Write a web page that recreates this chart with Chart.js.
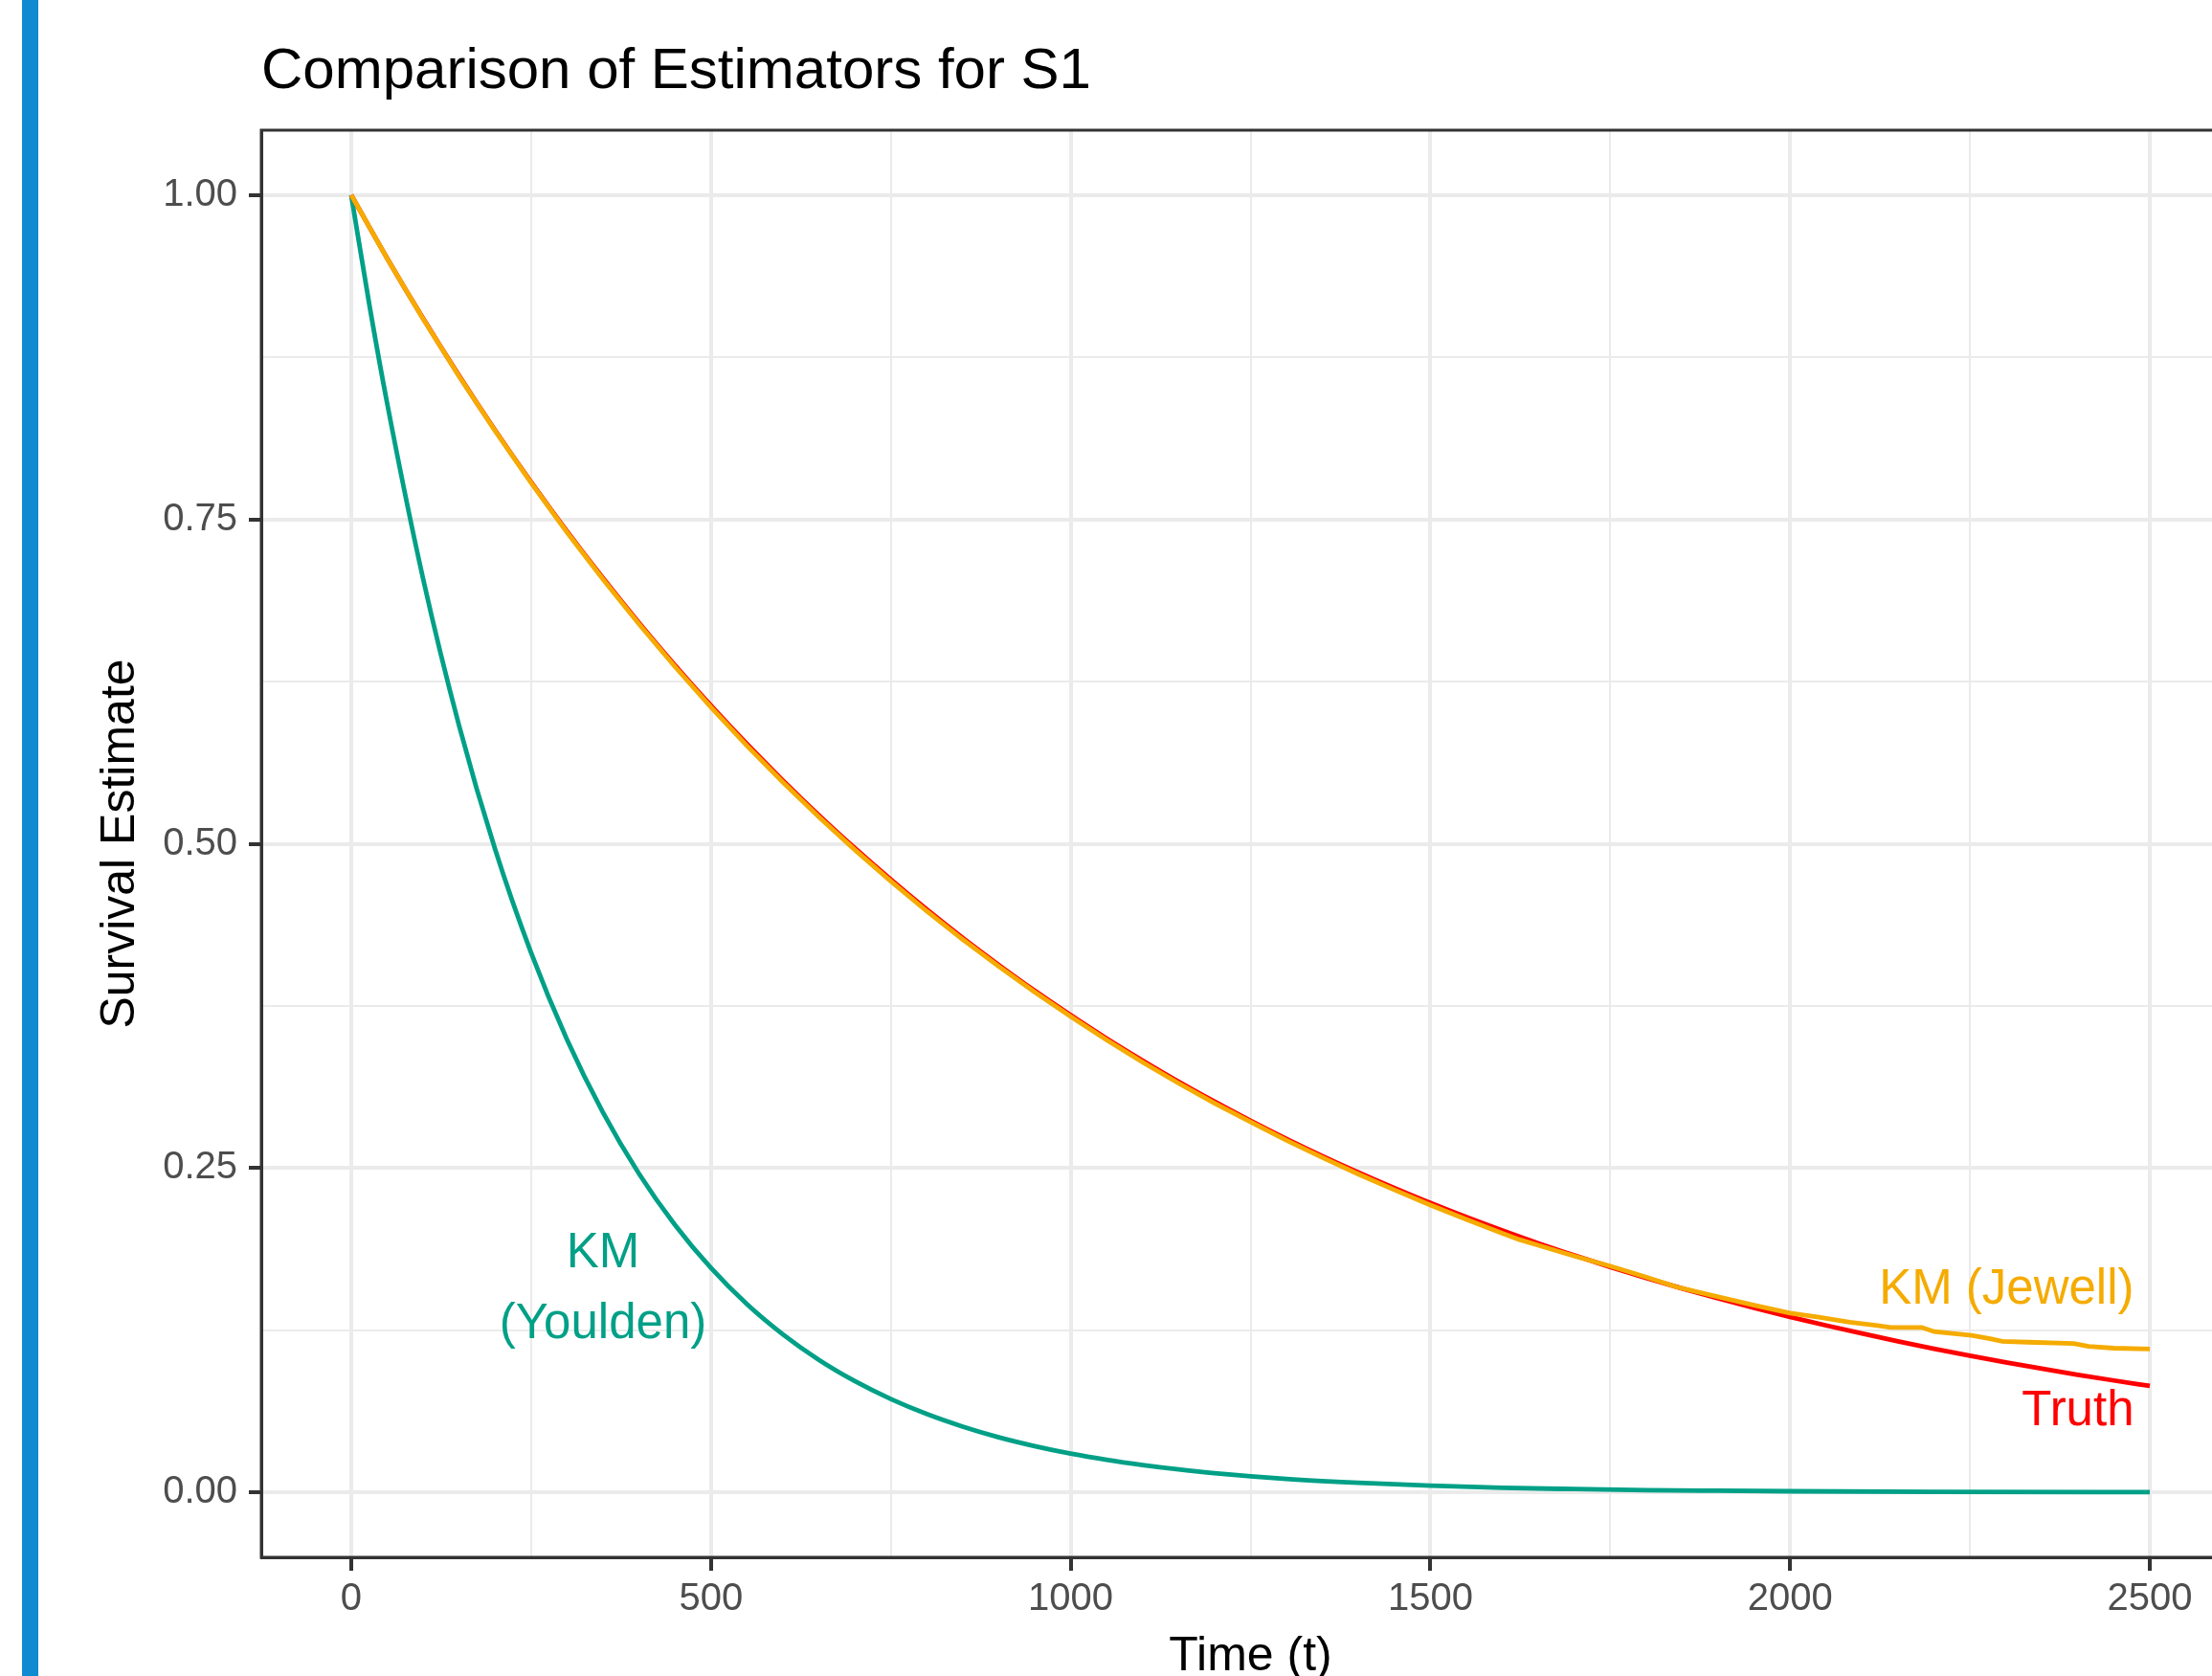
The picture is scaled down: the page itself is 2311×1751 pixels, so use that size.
<!DOCTYPE html>
<html>
<head>
<meta charset="utf-8">
<title>Comparison of Estimators for S1</title>
<script src="https://cdn.jsdelivr.net/npm/chart.js@4.4.1/dist/chart.umd.min.js"></script>
<style>
  html, body { margin: 0; padding: 0; background: #ffffff; overflow: hidden; }
  body { width: 2311px; height: 1751px; position: relative; }
  #side-bar { position: absolute; left: 23px; top: 0; width: 17px; height: 1751px; background: #108ad0; z-index: 2; }
  #survChart { position: absolute; left: 0; top: 0; }
</style>
</head>
<body>
<div id="side-bar"></div>
<canvas id="survChart" width="2360" height="1751"></canvas>
<script>
// Text
const TITLE = 'Comparison of Estimators for S1';
const X_TITLE = 'Time (t)';
const Y_TITLE = 'Survival Estimate';

// Ticks (major + minor gridlines)
const X_MAJOR = [0, 500, 1000, 1500, 2000, 2500];
const X_MINOR = [250, 750, 1250, 1750, 2250];
const Y_MAJOR = [0, 0.25, 0.5, 0.75, 1];
const Y_MINOR = [0.125, 0.375, 0.625, 0.875];

// Truth
const truthTime = [0, 50, 100, 150, 200, 250, 300, 350, 400, 450, 500, 550, 600, 650, 700, 750, 800, 850, 900, 950,
  1000, 1050, 1100, 1150, 1200, 1250, 1300, 1350, 1400, 1450, 1500, 1550, 1600, 1650, 1700, 1750, 1800, 1850, 1900, 1950,
  2000, 2050, 2100, 2150, 2200, 2250, 2300, 2350, 2400, 2450, 2500];
const truthSurv = [1.0000, 0.9512, 0.9048, 0.8607, 0.8187, 0.7788, 0.7408, 0.7047, 0.6703, 0.6376, 0.6065, 0.5769, 0.5488, 0.5220, 0.4966, 0.4724, 0.4493, 0.4274, 0.4066, 0.3867,
  0.3679, 0.3499, 0.3329, 0.3166, 0.3012, 0.2865, 0.2725, 0.2592, 0.2466, 0.2346, 0.2231, 0.2122, 0.2019, 0.1920, 0.1827, 0.1738, 0.1653, 0.1572, 0.1496, 0.1423,
  0.1353, 0.1287, 0.1225, 0.1165, 0.1108, 0.1054, 0.1003, 0.0954, 0.0907, 0.0863, 0.0821];

// KM (Jewell)
const jewellTime = [0, 50, 100, 150, 200, 250, 300, 350, 400, 450, 500, 550, 600, 650, 700, 750, 800, 850, 900, 950,
  1000, 1050, 1100, 1150, 1200, 1250, 1300, 1350, 1400, 1450, 1500, 1550, 1600, 1623, 1650, 1700, 1750, 1800, 1842, 1900, 1950,
  2000, 2040, 2083, 2119, 2140, 2183, 2200, 2252, 2278, 2295, 2330, 2394, 2415, 2450, 2500];
const jewellSurv = [1.0000, 0.9510, 0.9045, 0.8602, 0.8182, 0.7782, 0.7400, 0.7038, 0.6693, 0.6365, 0.6053, 0.5755, 0.5474, 0.5207, 0.4953, 0.4711, 0.4480, 0.4262, 0.4055, 0.3856,
  0.3668, 0.3488, 0.3316, 0.3154, 0.3000, 0.2855, 0.2714, 0.2581, 0.2453, 0.2332, 0.2215, 0.2105, 0.1998, 0.1950, 0.1905, 0.1822, 0.1745, 0.1660, 0.1584, 0.1508, 0.1443,
  0.1382, 0.1350, 0.1312, 0.1288, 0.1272, 0.1272, 0.1240, 0.1210, 0.1185, 0.1165, 0.1158, 0.1148, 0.1126, 0.1112, 0.1105];

// KM (Youlden)
const youldenTime = [0, 25, 50, 100, 150, 200, 250, 300, 350, 400, 450, 500, 550, 600, 650, 700, 750, 800, 850, 900, 950,
  1000, 1050, 1100, 1150, 1200, 1300, 1400, 1500, 1600, 1700, 1800, 1900, 2000, 2200, 2500];
const youldenSurv = [1.0000, 0.9161, 0.8393, 0.7040, 0.5909, 0.4957, 0.4160, 0.3490, 0.2928, 0.2457, 0.2062, 0.1730, 0.1451, 0.1218, 0.1022, 0.0858, 0.0720, 0.0604, 0.0507, 0.0425, 0.0357,
  0.0299, 0.0251, 0.0211, 0.0177, 0.0148, 0.0104, 0.0074, 0.0052, 0.0036, 0.0026, 0.0018, 0.0013, 0.0009, 0.0004, 0.0002];

// In-panel labels (data coordinates)
const LABELS = [
  { lines: ['KM (Jewell)'], x: 2478, y: 0.156, color: '#f5ab00', align: 'right' },
  { lines: ['Truth'], x: 2478, y: 0.062, color: '#ff0000', align: 'right' },
  { lines: ['KM', '(Youlden)'], x: 350, y: 0.1565, color: '#00a087', align: 'center' }
];

const FONT = '"Liberation Sans", Arial, Helvetica, sans-serif';

function toPoints(xs, ys) {
    return xs.map((t, i) => ({ x: t, y: ys[i] }));
}

// Titles, labels and the panel border, ggplot style
const ggTextPlugin = {
    id: 'ggText',
    afterDatasetsDraw(chart) {
        const { ctx, scales: { x, y } } = chart;
        ctx.save();
        ctx.font = `51px ${FONT}`;
        ctx.textBaseline = 'middle';
        LABELS.forEach(l => {
            ctx.fillStyle = l.color;
            ctx.textAlign = l.align;
            const px = x.getPixelForValue(l.x);
            const py = y.getPixelForValue(l.y);
            const lh = 74;
            const startY = py - (l.lines.length - 1) * lh / 2;
            l.lines.forEach((line, i) => ctx.fillText(line, px, startY + i * lh));
        });
        ctx.restore();
    },
    afterDraw(chart) {
        const { ctx, chartArea: a } = chart;
        ctx.save();
        // panel border
        ctx.strokeStyle = '#333333';
        ctx.lineWidth = 3;
        ctx.strokeRect(a.left, a.top, a.right - a.left, a.bottom - a.top);

        ctx.fillStyle = '#000000';
        ctx.textBaseline = 'alphabetic';

        // plot title
        ctx.font = `60px ${FONT}`;
        ctx.textAlign = 'left';
        ctx.fillText(TITLE, a.left, a.top - 44);

        // axis titles
        ctx.font = `50px ${FONT}`;
        ctx.textAlign = 'center';
        ctx.fillText(X_TITLE, (a.left + a.right) / 2, a.bottom + 118);

        ctx.translate(a.left - 133, (a.top + a.bottom) / 2);
        ctx.rotate(-Math.PI / 2);
        ctx.fillText(Y_TITLE, 0, 0);
        ctx.restore();
    }
};

function isMajor(list, v) {
    return list.some(m => Math.abs(m - v) < 1e-9);
}

function initChart() {
    const ctx = document.getElementById('survChart').getContext('2d');

    // lower order is drawn on top: Jewell over Truth
    const datasets = [
        {
            label: 'KM (Jewell)',
            data: toPoints(jewellTime, jewellSurv),
            borderColor: '#f5ab00',
            borderWidth: 4.8,
            pointRadius: 0,
            tension: 0,
            order: 0
        },
        {
            label: 'Truth',
            data: toPoints(truthTime, truthSurv),
            borderColor: '#ff0000',
            borderWidth: 4.8,
            pointRadius: 0,
            cubicInterpolationMode: 'monotone',
            order: 1
        },
        {
            label: 'KM (Youlden)',
            data: toPoints(youldenTime, youldenSurv),
            borderColor: '#00a087',
            borderWidth: 4.8,
            pointRadius: 0,
            cubicInterpolationMode: 'monotone',
            order: 2
        }
    ];

    const tickFont = { family: FONT, size: 40 };

    new Chart(ctx, {
        type: 'line',
        data: { datasets: datasets },
        options: {
            responsive: false,
            animation: false,
            devicePixelRatio: 1,
            layout: { padding: { top: 136, right: 20, left: 0, bottom: 0 } },
            plugins: {
                legend: { display: false },
                tooltip: { enabled: false }
            },
            scales: {
                x: {
                    type: 'linear',
                    min: -125,
                    max: 2625,
                    afterBuildTicks: scale => {
                        scale.ticks = X_MAJOR.concat(X_MINOR).sort((a, b) => a - b).map(v => ({ value: v }));
                    },
                    afterFit: scale => { scale.height = 124; },
                    ticks: {
                        autoSkip: false,
                        maxRotation: 0,
                        padding: 6,
                        color: '#4d4d4d',
                        font: tickFont,
                        callback: v => isMajor(X_MAJOR, v) ? String(v) : ''
                    },
                    grid: {
                        color: '#ebebeb',
                        lineWidth: c => isMajor(X_MAJOR, c.tick.value) ? 4 : 2,
                        tickColor: c => isMajor(X_MAJOR, c.tick.value) ? '#333333' : 'rgba(0,0,0,0)',
                        tickLength: 14,
                        tickWidth: 4
                    },
                    border: { display: true, color: '#333333', width: 3 }
                },
                y: {
                    type: 'linear',
                    min: -0.05,
                    max: 1.05,
                    afterBuildTicks: scale => {
                        scale.ticks = Y_MAJOR.concat(Y_MINOR).sort((a, b) => a - b).map(v => ({ value: v }));
                    },
                    afterFit: scale => { scale.width = 273; },
                    ticks: {
                        autoSkip: false,
                        padding: 12,
                        color: '#4d4d4d',
                        font: tickFont,
                        callback: v => isMajor(Y_MAJOR, v) ? v.toFixed(2) : ''
                    },
                    grid: {
                        color: '#ebebeb',
                        lineWidth: c => isMajor(Y_MAJOR, c.tick.value) ? 4 : 2,
                        tickColor: c => isMajor(Y_MAJOR, c.tick.value) ? '#333333' : 'rgba(0,0,0,0)',
                        tickLength: 13,
                        tickWidth: 4
                    },
                    border: { display: true, color: '#333333', width: 3 }
                }
            }
        },
        plugins: [ggTextPlugin]
    });
}

document.addEventListener('DOMContentLoaded', initChart);
</script>
</body>
</html>
